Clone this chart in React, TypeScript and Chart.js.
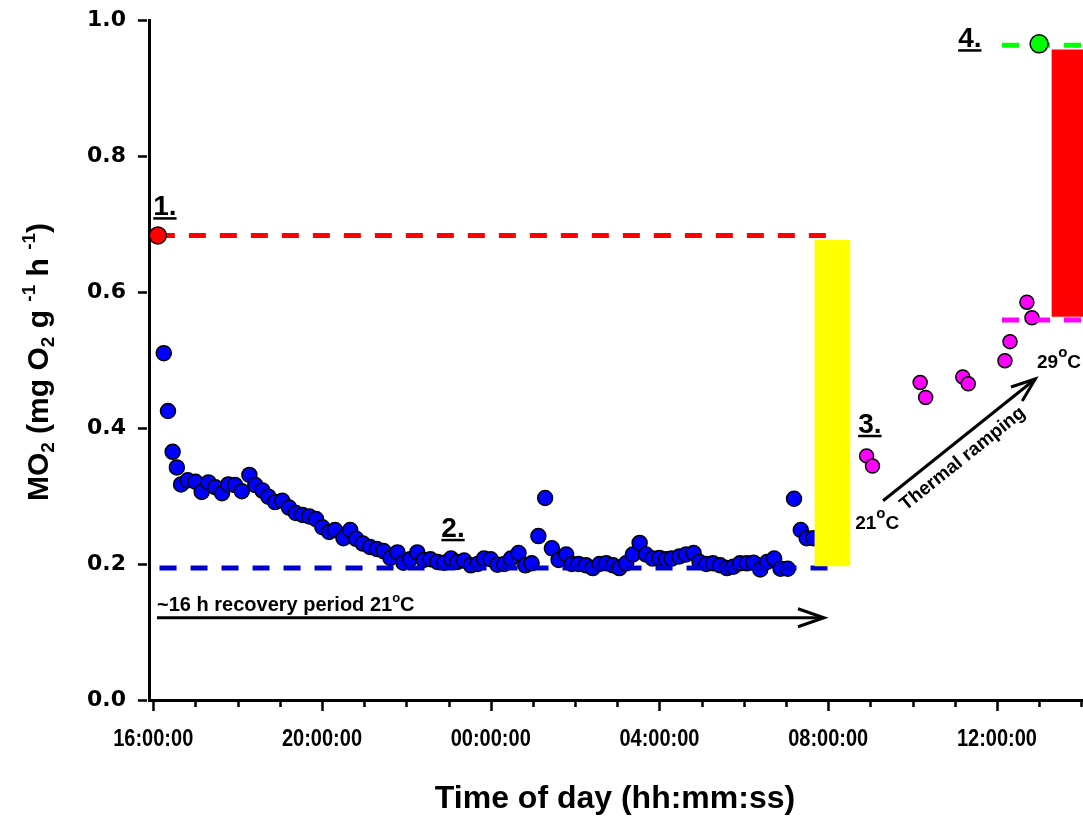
import React, { useEffect, useRef } from 'react';
import { Chart, registerables } from 'chart.js';

Chart.register(...registerables);

// All x values are hours elapsed since 16:00:00 on day 1
const X_MIN = -0.1;
const X_MAX = 22.04;
const xTickHours = [0, 4, 8, 12, 16, 20];
const xTickLabels = ['16:00:00', '20:00:00', '00:00:00', '04:00:00', '08:00:00', '12:00:00'];
const yTickValues = [0, 0.2, 0.4, 0.6, 0.8, 1.0];

// Recovery period (blue points)
const recoveryHours = [
  0.25, 0.35, 0.46, 0.56, 0.66, 0.82, 1.0, 1.15, 1.31, 1.47, 1.63, 1.78, 1.94, 2.1, 2.28, 2.42,
  2.59, 2.73, 2.89, 3.06, 3.22, 3.38, 3.54, 3.7, 3.86, 4.01, 4.17, 4.31, 4.51, 4.67, 4.81, 4.97,
  5.14, 5.3, 5.46, 5.62, 5.79, 5.93, 6.09, 6.26, 6.41, 6.57, 6.74, 6.9, 7.06, 7.21, 7.37, 7.53,
  7.69, 7.84, 8.0, 8.16, 8.32, 8.48, 8.66, 8.82, 8.97, 9.13, 9.29, 9.45, 9.61, 9.79, 9.92, 10.08,
  10.26, 10.42, 10.58, 10.74, 10.9, 11.05, 11.21, 11.37, 11.53, 11.68, 11.84, 12.0, 12.16, 12.29,
  12.47, 12.63, 12.81, 12.95, 13.11, 13.27, 13.44, 13.6, 13.75, 13.91, 14.07, 14.23, 14.39, 14.55,
  14.72, 14.87, 15.04, 15.19, 15.35, 15.49, 15.65,
];
const recoveryMO2 = [
  0.51, 0.425, 0.365, 0.342, 0.317, 0.323, 0.321, 0.306, 0.32, 0.313, 0.304, 0.317, 0.316, 0.307, 0.331, 0.316,
  0.308, 0.299, 0.291, 0.293, 0.283, 0.275, 0.272, 0.27, 0.266, 0.254, 0.247, 0.25, 0.238, 0.25, 0.237, 0.23,
  0.225, 0.222, 0.219, 0.209, 0.217, 0.202, 0.207, 0.217, 0.206, 0.207, 0.203, 0.202, 0.208, 0.203, 0.205, 0.198,
  0.2, 0.208, 0.207, 0.199, 0.2, 0.208, 0.216, 0.198, 0.201, 0.241, 0.297, 0.223, 0.206, 0.214, 0.2, 0.2,
  0.198, 0.194, 0.2, 0.201, 0.198, 0.194, 0.201, 0.214, 0.231, 0.214, 0.208, 0.209, 0.207, 0.208,
  0.211, 0.214, 0.216, 0.203, 0.2, 0.201, 0.198, 0.194, 0.196, 0.201, 0.201, 0.202, 0.192, 0.203,
  0.208, 0.193, 0.193, 0.296, 0.25, 0.238, 0.238,
];

// Thermal ramping (magenta points)
const rampHours = [16.91, 17.05, 18.18, 18.31, 19.19, 19.32, 20.19, 20.31, 20.71, 20.83];
const rampMO2 = [0.359, 0.344, 0.467, 0.445, 0.475, 0.465, 0.499, 0.527, 0.585, 0.562];

// Single highlighted points
const peakHours = [0.11];
const peakMO2 = [0.683];
const maxHours = [21.0];
const maxMO2 = [0.965];

// Reference levels (dashed lines)
const mmrLevel = 0.683;
const smrLevel = 0.194;
const rampBaseLevel = 0.559;
const rampMaxLevel = 0.963;
const recoverySpan = [0.11, 16.0];
const smrSpan = [0.15, 16.0];
const rampSpan = [20.12, 22.2];

// Aerobic scope bars
const scopeHours = [16.1, 21.72];
const scopeLow = [0.197, 0.564];
const scopeHigh = [0.676, 0.956];
const scopeColors = ['#FFFF00', '#FF0000'];

const ARIAL = '"Liberation Sans", Arial, sans-serif';
const DEJAVU = '"DejaVu Sans", sans-serif';

type Part = { t: string; s: number; dy?: number; f?: string };

function richWidth(ctx: CanvasRenderingContext2D, parts: Part[]) {
  let w = 0;
  for (const p of parts) {
    ctx.font = `bold ${p.s}px ${p.f || ARIAL}`;
    w += ctx.measureText(p.t).width;
  }
  return w;
}

function drawRich(ctx: CanvasRenderingContext2D, parts: Part[], x: number, y: number) {
  let cx = x;
  for (const p of parts) {
    ctx.font = `bold ${p.s}px ${p.f || ARIAL}`;
    ctx.fillText(p.t, cx, y + (p.dy || 0));
    cx += ctx.measureText(p.t).width;
  }
  return cx - x;
}

function arrow(ctx: CanvasRenderingContext2D, x1: number, y1: number, x2: number, y2: number, head: number, spread: number) {
  const a = Math.atan2(y2 - y1, x2 - x1);
  ctx.beginPath();
  ctx.moveTo(x1, y1);
  ctx.lineTo(x2, y2);
  ctx.stroke();
  const ux = Math.cos(a), uy = Math.sin(a);
  const px = -uy, py = ux;
  ctx.beginPath();
  ctx.moveTo(x2 - ux * head + px * spread, y2 - uy * head + py * spread);
  ctx.lineTo(x2, y2);
  ctx.lineTo(x2 - ux * head - px * spread, y2 - uy * head - py * spread);
  ctx.stroke();
}

const overlayPlugin = {
  id: 'overlay',
  afterDraw(chart: any) {
    const ctx: CanvasRenderingContext2D = chart.ctx;
    const xs = chart.scales.x;
    const ys = chart.scales.y;
    const X = (h: number) => xs.getPixelForValue(h);
    const Y = (v: number) => ys.getPixelForValue(v);
    const area = chart.chartArea;
    ctx.save();
    ctx.strokeStyle = '#000';
    ctx.fillStyle = '#000';
    ctx.lineWidth = 2.5;
    ctx.lineCap = 'butt';

    // x ticks (major every 4 h, minor every hour)
    for (let h = 0; h <= Math.floor(X_MAX); h++) {
      const px = Math.round(X(h)) + 0.5;
      const major = h % 4 === 0;
      ctx.beginPath();
      ctx.moveTo(px, area.bottom + 2);
      ctx.lineTo(px, area.bottom + (major ? 11 : 7));
      ctx.stroke();
    }
    // y ticks
    for (const v of yTickValues) {
      const py = Math.round(Y(v)) + 0.5;
      ctx.beginPath();
      ctx.moveTo(area.left - 2, py);
      ctx.lineTo(area.left - 11, py);
      ctx.stroke();
    }

    // x tick labels (condensed bold)
    ctx.textAlign = 'center';
    ctx.textBaseline = 'alphabetic';
    ctx.font = `bold 23px ${ARIAL}`;
    xTickHours.forEach((h, i) => {
      ctx.save();
      ctx.translate(X(h), area.bottom + 46);
      ctx.scale(0.87, 1);
      ctx.fillText(xTickLabels[i], 0, 0);
      ctx.restore();
    });

    // x title
    ctx.font = `bold 32px ${ARIAL}`;
    ctx.fillText('Time of day (hh:mm:ss)', 615, 808);

    // y title (rotated, with sub/superscripts)
    ctx.textAlign = 'left';
    const yParts: Part[] = [
      { t: 'MO', s: 30 },
      { t: '2', s: 19, dy: 6 },
      { t: ' (mg O', s: 30 },
      { t: '2', s: 19, dy: 6 },
      { t: ' g ', s: 30 },
      { t: '-1', s: 19, dy: -13 },
      { t: ' h ', s: 30 },
      { t: '-1', s: 19, dy: -13 },
      { t: ')', s: 30 },
    ];
    const tw = richWidth(ctx, yParts);
    ctx.save();
    ctx.translate(48, 362);
    ctx.rotate(-Math.PI / 2);
    drawRich(ctx, yParts, -tw / 2, 0);
    ctx.restore();

    // numbered, underlined labels
    const numLabel = (txt: string, h: number, v: number) => {
      ctx.font = `bold 28px ${ARIAL}`;
      const x = X(h), y = Y(v);
      ctx.fillText(txt, x, y);
      const w = ctx.measureText(txt).width;
      ctx.fillRect(x, y + 2, w, 2.5);
    };
    numLabel('1.', 0.0, 0.713);
    numLabel('2.', 6.83, 0.24);
    numLabel('3.', 16.71, 0.393);
    numLabel('4.', 19.08, 0.96);

    // recovery period text + arrow
    drawRich(ctx, [
      { t: '~16 h recovery period 21', s: 20 },
      { t: 'o', s: 13, dy: -9 },
      { t: 'C', s: 20 },
    ], X(0.09), Y(0.131));
    ctx.lineWidth = 3;
    arrow(ctx, X(0.09), Y(0.121), X(15.9), Y(0.121), 26, 9);

    // thermal ramping arrow + text
    const ax1 = X(17.3), ay1 = Y(0.293), ax2 = X(20.91), ay2 = Y(0.472);
    arrow(ctx, ax1, ay1, ax2, ay2, 24, 9);
    const ang = Math.atan2(ay2 - ay1, ax2 - ax1);
    const dx = Math.cos(ang), dy = Math.sin(ang);
    const mx = (ax1 + ax2) / 2 + (-dy) * 17 - dx * 9;
    const my = (ay1 + ay2) / 2 + dx * 17 - dy * 9;
    ctx.save();
    ctx.translate(mx, my);
    ctx.rotate(ang);
    ctx.font = `bold 19px ${ARIAL}`;
    ctx.textAlign = 'center';
    ctx.textBaseline = 'middle';
    ctx.fillText('Thermal ramping', 0, 0);
    ctx.restore();

    ctx.textAlign = 'left';
    ctx.textBaseline = 'alphabetic';
    drawRich(ctx, [
      { t: '21', s: 19 },
      { t: 'o', s: 15, dy: -11 },
      { t: 'C', s: 19 },
    ], X(16.64), Y(0.251));
    drawRich(ctx, [
      { t: '29', s: 19 },
      { t: 'o', s: 15, dy: -11 },
      { t: 'C', s: 19 },
    ], X(20.95), Y(0.488));

    ctx.restore();
  },
};

const toXY = (xs: number[], ys: number[]) => xs.map((x, i) => ({ x, y: ys[i] }));

export default function App() {
  const ref = useRef<HTMLCanvasElement | null>(null);

  useEffect(() => {
    document.body.style.margin = '0';
    const canvas = ref.current;
    if (!canvas) return;

    const points = (data: any[], color: string, r: number, order: number) => ({
      type: 'scatter' as const,
      data,
      backgroundColor: color,
      borderColor: '#000',
      borderWidth: 1.5,
      pointRadius: r,
      pointHoverRadius: r,
      showLine: false,
      order,
    });
    const dashed = (span: number[], level: number, color: string, order: number) => ({
      type: 'line' as const,
      data: [{ x: span[0], y: level }, { x: span[1], y: level }],
      borderColor: color,
      borderWidth: 5,
      borderDash: [17, 14],
      borderCapStyle: 'butt',
      pointRadius: 0,
      fill: false,
      tension: 0,
      order,
    });

    const chart = new Chart(canvas, {
      type: 'scatter',
      data: {
        datasets: [
          points(toXY(recoveryHours, recoveryMO2), '#0000FF', 7.5, 20),
          points(toXY(rampHours, rampMO2), '#FF00FF', 7, 20),
          dashed(smrSpan, smrLevel, '#0000CC', 15),
          dashed(rampSpan, rampBaseLevel, '#FF00FF', 15),
          dashed(recoverySpan, mmrLevel, '#FF0000', 12),
          points(toXY(peakHours, peakMO2), '#FF0000', 8.5, 11),
          {
            type: 'bar' as const,
            data: scopeHours.map((h, i) => ({ x: h, y: [scopeLow[i], scopeHigh[i]] })),
            backgroundColor: scopeColors,
            borderWidth: 0,
            barThickness: 35,
            grouped: false,
            order: 8,
          } as any,
          dashed(rampSpan, rampMaxLevel, '#00FF00', 5),
          points(toXY(maxHours, maxMO2), '#00FF00', 9, 3),
        ] as any,
      },
      options: {
        animation: false,
        responsive: false,
        events: [],
        layout: { autoPadding: false, padding: { top: 20, left: 0, right: 0, bottom: 0 } },
        plugins: { legend: { display: false }, tooltip: { enabled: false } },
        scales: {
          x: {
            type: 'linear',
            min: X_MIN,
            max: X_MAX,
            offset: false,
            afterFit: (s: any) => {
              s.height = 116;
              s.paddingLeft = 0;
              s.paddingRight = 0;
            },
            afterBuildTicks: (s: any) => { s.ticks = xTickHours.map((v) => ({ value: v })); },
            grid: { display: false, drawTicks: false },
            border: { display: true, color: '#000', width: 3 },
            ticks: { display: false },
          },
          y: {
            type: 'linear',
            min: 0,
            max: 1,
            afterFit: (s: any) => {
              s.width = 149;
              s.paddingTop = 0;
              s.paddingBottom = 0;
            },
            afterBuildTicks: (s: any) => { s.ticks = yTickValues.map((v) => ({ value: v })); },
            grid: { display: false, drawTicks: false },
            border: { display: true, color: '#000', width: 3 },
            ticks: {
              padding: 23,
              color: '#000',
              font: { family: DEJAVU, size: 22, weight: 'bold' },
              callback: (v: any) => Number(v).toFixed(1),
            },
          },
        },
      } as any,
      plugins: [overlayPlugin],
    });

    return () => chart.destroy();
  }, []);

  return (
    <div style={{ width: 1083, height: 816 }}>
      <canvas ref={ref} width={1083} height={816} style={{ display: 'block' }} />
    </div>
  );
}
